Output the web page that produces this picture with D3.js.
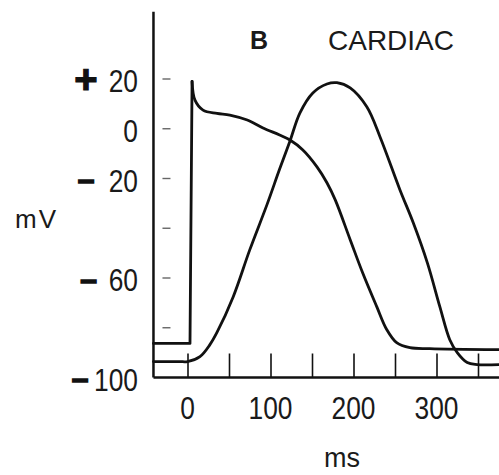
<!DOCTYPE html>
<html>
<head>
<meta charset="utf-8">
<script src="https://cdn.jsdelivr.net/npm/d3@7"></script>
<style>
  html, body { margin: 0; padding: 0; background: #fff; }
  svg { display: block; }
  text { font-family: "Liberation Sans", Arial, sans-serif; fill: #1a1a1a; }
</style>
</head>
<body>
<script>
// ---- data ----
const panelLetter = "B";
const title = "CARDIAC";
const yUnit = "mV";
const xUnit = "ms";

// membrane potential (action potential), ms / mV
// resting level + upstroke (straight segments)
const apRestMs = [-41, 3, 5.5];
const apRestMv = [-86.3, -86.3, 19];
// spike, plateau and repolarisation (smooth)
const apMs = [5.5, 9, 18.7, 35.5, 51, 72, 91, 111, 123.5, 139, 156, 168, 178, 196, 211, 228, 240, 252, 268, 292, 375];
const apMv = [19, 11.5, 7.5, 6.2, 5.5, 3.5, 0.3, -2.5, -4.5, -8.5, -15.3, -21.7, -28.6, -44.6, -57.9, -71.5, -80.7, -86, -88, -88.4, -88.8];

// contraction (tension) trace, drawn on same vertical scale
const forceMs = [-41, -10, 0, 15, 27, 35.5, 55, 75, 96, 111, 123.5, 135.5, 151, 168, 180, 196, 216, 232, 256, 272, 289, 304, 316, 325, 337, 349, 375];
const forceLevel = [-93.6, -93.6, -93.6, -91.6, -86.8, -81.9, -67.6, -48.7, -30.3, -16.2, -4.9, 6.4, 14.4, 18, 18.5, 16.4, 8.8, -3.3, -24.6, -37.8, -53.9, -71.5, -84.8, -90, -94, -94.8, -94.8];

const xTicks = [0, 50, 100, 150, 200, 250, 300, 350];
const xLabels = [0, 100, 200, 300];
const yTicks = [20, 0, -20, -40, -60, -80];
const yLabels = [20, 0, -20, -60, -100];

// ---- drawing ----
const W = 499, H = 475;
const svg = d3.select("body").append("svg").attr("width", W).attr("height", H);

const x = d3.scaleLinear().domain([0, 350]).range([187.5, 478]);
const y = d3.scaleLinear().domain([-100, 20]).range([377.5, 79]);

const ink = "#111";

// vertical axis line
svg.append("line")
  .attr("x1", x(-41)).attr("x2", x(-41))
  .attr("y1", y(47)).attr("y2", y(-100))
  .attr("stroke", ink).attr("stroke-width", 2.5);

// horizontal axis with upward ticks
const xAxis = d3.axisBottom(x).tickValues(xTicks).tickSize(-24).tickFormat("");
const gx = svg.append("g").attr("transform", `translate(0,${y(-100)})`).call(xAxis);
gx.select(".domain").remove();
gx.selectAll(".tick line").attr("stroke", ink).attr("stroke-width", 1.6);
svg.append("line")
  .attr("x1", x(-41)).attr("x2", W)
  .attr("y1", y(-100)).attr("y2", y(-100))
  .attr("stroke", ink).attr("stroke-width", 2.5);

// small y tick marks (right of axis)
svg.append("g").selectAll("line").data(yTicks).join("line")
  .attr("x1", x(-41) + 9).attr("x2", x(-41) + 17)
  .attr("y1", d => y(d)).attr("y2", d => y(d))
  .attr("stroke", "#666").attr("stroke-width", 1.4);

// curves
const zip = (a, b) => a.map((t, i) => [t, b[i]]);
const straight = d3.line().x(d => x(d[0])).y(d => y(d[1]));
const smooth = d3.line().x(d => x(d[0])).y(d => y(d[1])).curve(d3.curveCatmullRom.alpha(0.5));

const curveStyle = p => p.attr("fill", "none").attr("stroke", ink)
  .attr("stroke-width", 2.8).attr("stroke-linejoin", "round").attr("stroke-linecap", "round");

svg.append("path").attr("d", straight(zip(apRestMs, apRestMv))).call(curveStyle);
svg.append("path").attr("d", smooth(zip(apMs, apMv))).call(curveStyle);
svg.append("path").attr("d", smooth(zip(forceMs, forceLevel))).call(curveStyle);

// x labels (condensed digits)
svg.append("g").selectAll("text").data(xLabels).join("text")
  .attr("transform", d => `translate(${x(d)},419) scale(0.85,1)`)
  .attr("text-anchor", "middle")
  .attr("font-size", 31)
  .text(d => d);

// y labels: magnitude
svg.append("g").selectAll("text").data(yLabels).join("text")
  .attr("transform", d => `translate(138,${y(d) + 13}) scale(0.85,1)`)
  .attr("text-anchor", "end")
  .attr("font-size", 31)
  .text(d => Math.abs(d));

// y labels: bold signs
const signX = { "20": 86, "-20": 86, "-60": 88.5, "-100": 80 };
svg.append("g").selectAll("text").data(yLabels.filter(d => d !== 0)).join("text")
  .attr("x", d => signX[d])
  .attr("y", d => d > 0 ? y(d) + 14 : y(d) + 11.5)
  .attr("text-anchor", "middle")
  .attr("font-size", d => d > 0 ? 40 : 30)
  .attr("font-weight", "bold")
  .attr("stroke", ink).attr("stroke-width", d => d > 0 ? 1.2 : 1.5)
  .style("fill", ink)
  .text(d => d > 0 ? "+" : "\u2013");

// unit labels
svg.append("text").attr("x", 15).attr("y", 228).attr("font-size", 26)
  .attr("letter-spacing", 2).text(yUnit);
svg.append("text").attr("x", 324).attr("y", 467).attr("font-size", 27).text(xUnit);

// title
svg.append("text").attr("x", 250).attr("y", 49).attr("font-size", 25)
  .attr("font-weight", "bold").text(panelLetter);
svg.append("text").attr("x", 328).attr("y", 50).attr("font-size", 28).text(title);
</script>
</body>
</html>
